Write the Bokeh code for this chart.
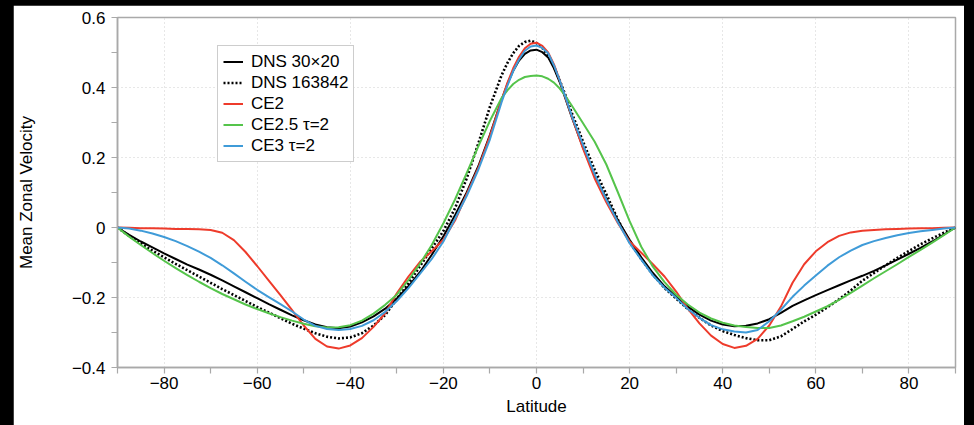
from bokeh.plotting import figure
from bokeh.models import Range1d, FixedTicker, Column
from bokeh.embed import file_html
from bokeh.resources import INLINE

# ---------------- data ----------------
latitude = [-90, -87.5, -85, -82.5, -80, -77.5, -75, -72.5, -70, -67.5, -65, -62.5,
            -60, -57.5, -55, -52.5, -50, -47.5, -45, -42.5, -40, -37.5, -35, -32.5,
            -30, -27.5, -25, -22.5, -20, -17.5, -15, -12.5, -10, -7.5, -6.25, -5, -3.75, -2.5, -1.25,
            0, 1.25, 2.5, 3.75, 5, 6.25, 7.5, 10, 12.5, 15, 17.5, 20, 22.5, 25, 27.5,
            30, 32.5, 35, 37.5, 40, 42.5, 45, 47.5, 50, 52.5, 55, 57.5,
            60, 62.5, 65, 67.5, 70, 72.5, 75, 77.5, 80, 82.5, 85, 87.5, 90]

dns_30x20 = [0, -0.021, -0.040, -0.057, -0.074, -0.090, -0.106, -0.120, -0.135, -0.151, -0.168, -0.185,
             -0.202, -0.219, -0.235, -0.251, -0.265, -0.277, -0.285, -0.288, -0.283, -0.271, -0.254, -0.232,
             -0.203, -0.168, -0.127, -0.078, -0.025, 0.035, 0.100, 0.175, 0.265, 0.365, 0.410, 0.448, 0.477, 0.496, 0.506,
             0.508, 0.501, 0.486, 0.455, 0.415, 0.367, 0.318, 0.228, 0.148, 0.082, 0.020, -0.035, -0.085, -0.130, -0.168,
             -0.198, -0.226, -0.249, -0.266, -0.277, -0.282, -0.281, -0.274, -0.262, -0.244, -0.224, -0.208,
             -0.193, -0.179, -0.165, -0.151, -0.138, -0.124, -0.108, -0.092, -0.075, -0.058, -0.040, -0.020, 0]

dns_163842 = [0, -0.024, -0.046, -0.066, -0.085, -0.104, -0.122, -0.140, -0.158, -0.176, -0.193, -0.210,
              -0.227, -0.243, -0.259, -0.275, -0.289, -0.302, -0.312, -0.317, -0.314, -0.302, -0.280, -0.250,
              -0.204, -0.160, -0.110, -0.060, -0.010, 0.055, 0.140, 0.240, 0.345, 0.435, 0.470, 0.498, 0.519, 0.530, 0.534,
              0.527, 0.513, 0.490, 0.460, 0.420, 0.377, 0.330, 0.245, 0.165, 0.095, 0.022, -0.042, -0.090, -0.135, -0.173,
              -0.203, -0.233, -0.258, -0.280, -0.296, -0.307, -0.316, -0.322, -0.322, -0.311, -0.290, -0.268,
              -0.249, -0.228, -0.205, -0.180, -0.152, -0.130, -0.108, -0.087, -0.067, -0.048, -0.031, -0.015, 0]

ce2 = [0, -0.001, -0.002, -0.002, -0.003, -0.004, -0.004, -0.005, -0.007, -0.015, -0.036, -0.070,
       -0.110, -0.152, -0.193, -0.236, -0.280, -0.318, -0.340, -0.346, -0.337, -0.316, -0.284, -0.245,
       -0.188, -0.140, -0.098, -0.068, -0.035, 0.020, 0.095, 0.170, 0.262, 0.365, 0.413, 0.455, 0.488, 0.512, 0.525,
       0.528, 0.519, 0.500, 0.466, 0.420, 0.370, 0.320, 0.225, 0.140, 0.072, 0.012, -0.040, -0.072, -0.105, -0.140,
       -0.183, -0.232, -0.274, -0.309, -0.333, -0.344, -0.338, -0.318, -0.280, -0.226, -0.158, -0.105,
       -0.068, -0.042, -0.024, -0.014, -0.009, -0.007, -0.005, -0.004, -0.003, -0.002, -0.002, -0.001, 0]

ce25_tau2 = [0, -0.026, -0.050, -0.073, -0.095, -0.116, -0.136, -0.155, -0.173, -0.190, -0.205, -0.220,
             -0.233, -0.245, -0.256, -0.266, -0.275, -0.282, -0.286, -0.285, -0.279, -0.266, -0.246, -0.221,
             -0.192, -0.150, -0.103, -0.050, 0.012, 0.080, 0.155, 0.232, 0.305, 0.370, 0.392, 0.410, 0.422, 0.430, 0.433,
             0.434, 0.432, 0.425, 0.414, 0.397, 0.375, 0.350, 0.298, 0.245, 0.180, 0.100, 0.018, -0.055, -0.112, -0.156,
             -0.192, -0.220, -0.243, -0.260, -0.272, -0.280, -0.284, -0.287, -0.287, -0.280, -0.268, -0.255,
             -0.240, -0.225, -0.207, -0.187, -0.166, -0.145, -0.125, -0.105, -0.084, -0.064, -0.043, -0.022, 0]

ce3_tau2 = [0, -0.003, -0.009, -0.017, -0.027, -0.039, -0.053, -0.069, -0.087, -0.108, -0.131, -0.155,
            -0.178, -0.199, -0.219, -0.240, -0.263, -0.281, -0.290, -0.293, -0.290, -0.281, -0.265, -0.241,
            -0.210, -0.173, -0.132, -0.090, -0.040, 0.025, 0.090, 0.165, 0.252, 0.358, 0.405, 0.447, 0.480, 0.505, 0.517,
            0.520, 0.513, 0.498, 0.463, 0.420, 0.372, 0.322, 0.236, 0.152, 0.080, 0.015, -0.045, -0.092, -0.137, -0.172,
            -0.201, -0.233, -0.258, -0.279, -0.291, -0.297, -0.300, -0.293, -0.268, -0.235, -0.198, -0.166,
            -0.137, -0.109, -0.085, -0.066, -0.050, -0.039, -0.030, -0.022, -0.016, -0.011, -0.007, -0.003, 0]

series_names = ["DNS 30\u00d720", "DNS 163842", "CE2", "CE2.5 \u03c4=2", "CE3 \u03c4=2"]

x_ticks = [-80, -60, -40, -20, 0, 20, 40, 60, 80]
x_tick_labels = ["\u221280", "\u221260", "\u221240", "\u221220", "0", "20", "40", "60", "80"]
x_minor_ticks = [-90, -70, -50, -30, -10, 10, 30, 50, 70, 90]
y_ticks = [-0.4, -0.2, 0, 0.2, 0.4, 0.6]
y_tick_labels = ["\u22120.4", "\u22120.2", "0", "0.2", "0.4", "0.6"]
y_minor_ticks = [-0.3, -0.1, 0.1, 0.3, 0.5]

# ---------------- figure ----------------
FONT = "Liberation Sans"
FS = "17px"
AX = "#a9a9a9"

p = figure(width=951, height=420, output_backend="svg", toolbar_location=None,
           x_range=Range1d(-90, 90), y_range=Range1d(-0.4, 0.6),
           min_border_left=102, min_border_right=9, min_border_top=12, min_border_bottom=58,
           margin=(5, 10, 0, 13))
p.background_fill_color = "white"
p.border_fill_color = "white"
p.outline_line_color = AX
p.outline_line_width = 1.5

p.xaxis.ticker = FixedTicker(ticks=x_ticks, minor_ticks=x_minor_ticks)
p.yaxis.ticker = FixedTicker(ticks=y_ticks, minor_ticks=y_minor_ticks)
p.xaxis.major_label_overrides = dict(zip(x_ticks, x_tick_labels))
p.yaxis.major_label_overrides = dict(zip(y_ticks, y_tick_labels))

for ax in (p.xaxis, p.yaxis):
    ax.axis_line_color = AX
    ax.axis_line_width = 1.5
    ax.major_tick_line_color = AX
    ax.minor_tick_line_color = AX
    ax.major_tick_line_width = 1.2
    ax.minor_tick_line_width = 1.2
    ax.major_tick_out = 6
    ax.major_tick_in = 0
    ax.minor_tick_out = 6
    ax.minor_tick_in = 0
    ax.major_label_text_font = FONT
    ax.major_label_text_font_size = FS
    ax.major_label_text_color = "black"
    ax.axis_label_text_font = FONT
    ax.axis_label_text_font_size = FS
    ax.axis_label_text_font_style = "normal"
    ax.axis_label_text_color = "black"

p.xaxis.axis_label = "Latitude"
p.yaxis.axis_label = "Mean Zonal Velocity"
p.xaxis.major_label_standoff = 3
p.xaxis.axis_label_standoff = 5
p.yaxis.major_label_standoff = 6
p.yaxis.axis_label_standoff = 33

for g in (p.xgrid, p.ygrid):
    g.grid_line_color = "#cfcfcf"
    g.grid_line_dash = "1 3"
    g.grid_line_width = 1
p.xgrid.ticker = FixedTicker(ticks=x_ticks)
p.ygrid.ticker = FixedTicker(ticks=y_ticks)

colors = ["#000000", "#000000", "#ee3b2b", "#55c44b", "#3f9bd8"]
dashes = ["solid", "2 2", "solid", "solid", "solid"]
widths = [2, 2.6, 2, 2, 2]
for ys, name, c, d, w in zip([dns_30x20, dns_163842, ce2, ce25_tau2, ce3_tau2],
                             series_names, colors, dashes, widths):
    p.line(latitude, ys, line_color=c, line_width=w, line_dash=d, legend_label=name,
           line_join="round")

lg = p.legend[0]
lg.location = (100, 205)
lg.label_text_font = FONT
lg.label_text_font_size = FS
lg.label_text_color = "black"
lg.label_height = 21
lg.glyph_height = 21
lg.glyph_width = 20
lg.label_standoff = 8
lg.spacing = 0
lg.padding = 5
lg.margin = 0
lg.border_line_color = "#9c9c9c"
lg.border_line_width = 1
lg.background_fill_color = "white"
lg.background_fill_alpha = 1

layout = Column(p, width=974, height=425, styles={"background-color": "black"})

open("out.html", "w").write(file_html(layout, INLINE))
